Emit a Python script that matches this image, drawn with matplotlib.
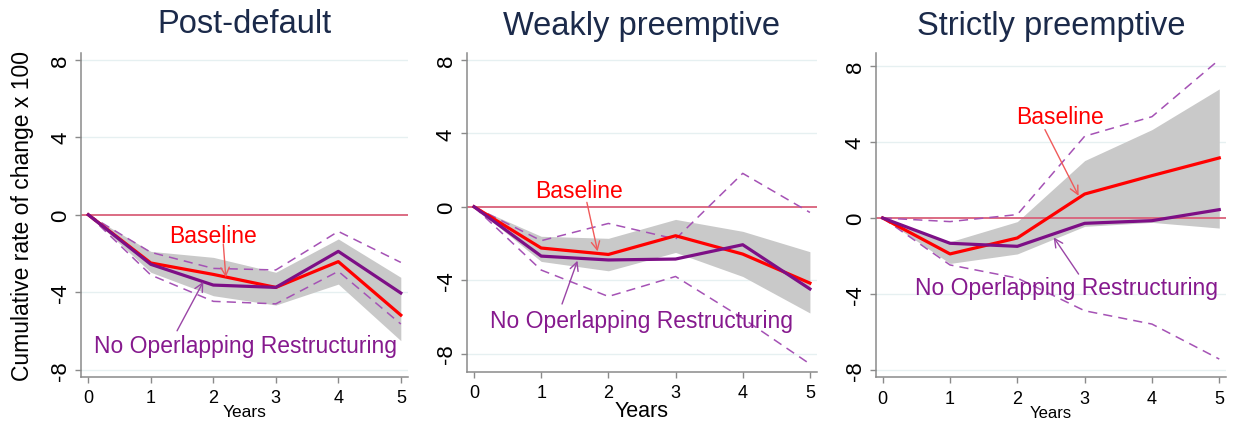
import matplotlib
matplotlib.use("Agg")
import matplotlib.pyplot as plt

plt.rcParams['font.family'] = ['Liberation Sans', 'DejaVu Sans']

years = [0, 1, 2, 3, 4, 5]
titles = ["Post-default", "Weakly preemptive", "Strictly preemptive"]
yticks = [-8, -4, 0, 4, 8]
ytick_labels = ["-8", "-4", "0", "4", "8"]
ylabel_text = "Cumulative rate of change x 100"
xlabel_text = "Years"
label_baseline = "Baseline"
label_noovl = "No Operlapping Restructuring"

# Post-default
pd_baseline = [0, -2.49, -3.08, -3.75, -2.42, -5.18]
pd_baseline_lo = [0, -2.97, -4.18, -4.66, -3.58, -6.50]
pd_baseline_hi = [0, -1.89, -2.20, -2.97, -1.25, -3.23]
pd_noovl = [0, -2.56, -3.63, -3.75, -1.89, -4.04]
pd_noovl_lo = [0, -3.11, -4.47, -4.60, -2.92, -5.64]
pd_noovl_hi = [0, -1.94, -2.77, -2.85, -0.86, -2.46]

# Weakly preemptive
wp_baseline = [0, -2.25, -2.60, -1.58, -2.58, -4.16]
wp_baseline_lo = [0, -2.98, -3.49, -2.49, -3.80, -5.79]
wp_baseline_hi = [0, -1.61, -1.72, -0.69, -1.34, -2.45]
wp_noovl = [0, -2.69, -2.90, -2.85, -2.07, -4.48]
wp_noovl_lo = [0, -3.45, -4.89, -3.80, -6.08, -8.57]
wp_noovl_hi = [0, -1.85, -0.91, -1.76, 1.82, -0.31]

# Strictly preemptive
sp_baseline = [0, -1.89, -1.05, 1.26, 2.23, 3.16]
sp_baseline_lo = [0, -2.39, -1.89, -0.44, -0.23, -0.53]
sp_baseline_hi = [0, -1.25, -0.19, 3.02, 4.65, 6.79]
sp_noovl = [0, -1.33, -1.49, -0.28, -0.14, 0.44]
sp_noovl_lo = [0, -2.47, -3.16, -4.88, -5.58, -7.42]
sp_noovl_hi = [0, -0.19, 0.18, 4.30, 5.33, 8.33]

panels = [
    dict(b=pd_baseline, blo=pd_baseline_lo, bhi=pd_baseline_hi,
         n=pd_noovl, nlo=pd_noovl_lo, nhi=pd_noovl_hi),
    dict(b=wp_baseline, blo=wp_baseline_lo, bhi=wp_baseline_hi,
         n=wp_noovl, nlo=wp_noovl_lo, nhi=wp_noovl_hi),
    dict(b=sp_baseline, blo=sp_baseline_lo, bhi=sp_baseline_hi,
         n=sp_noovl, nlo=sp_noovl_lo, nhi=sp_noovl_hi),
]

# layout / style (not data)
W, H = 1238, 427
axes_px = [(81, 54, 408, 377.7), (466.7, 54, 817.3, 372.7), (875.7, 54, 1226, 378.3)]
ylims = [(-8.36, 8.35), (-8.99, 8.38), (-8.38, 8.68)]
xlims = [(-0.117, 5.115), (-0.109, 5.11), (-0.104, 5.10)]
xlabel_sizes = [12.5, 15.5, 12]
xlabel_y = [-0.109, -0.122, -0.11]
title_pads = [15, 14, 14]
# annotation placement (text center, arrow start, arrow tip) in data coords
ann_base = [((2.0, -1.05), (2.16, -1.51), (2.2, -3.23)),
            ((1.56, 0.87), (1.68, 0.24), (1.84, -2.43)),
            ((2.63, 5.35), (2.41, 4.65), (2.91, 1.17))]
ann_noovl = [((2.52, -6.76), (1.42, -5.99), (1.84, -3.46)),
             ((2.5, -6.21), (1.31, -5.30), (1.54, -2.94)),
             ((2.73, -3.65), (2.91, -2.95), (2.54, -1.02))]

RED = '#ff0000'
PURPLE = '#7d0f86'
DASH = '#a552b5'
BAND = '#c9c9c9'
ZERO = '#d9607a'
GRID = '#e6f0f1'
SPINE = '#8a8a8a'
TITLE = '#1b2a4a'

fig = plt.figure(figsize=(W / 100, H / 100), dpi=100)

for i, p in enumerate(panels):
    x0, y0, x1, y1 = axes_px[i]
    ax = fig.add_axes([x0 / W, (H - y1) / H, (x1 - x0) / W, (y1 - y0) / H])
    ax.set_xlim(*xlims[i])
    ax.set_ylim(*ylims[i])
    for yv in yticks:
        if yv != 0:
            ax.axhline(yv, color=GRID, lw=1, zorder=0)
    ax.fill_between(years, p['blo'], p['bhi'], color=BAND, lw=0, zorder=1)
    ax.axhline(0, color=ZERO, lw=1.3, zorder=2)
    ax.plot(years, p['nlo'], color=DASH, lw=1.1, ls=(0, (6, 4)), zorder=3)
    ax.plot(years, p['nhi'], color=DASH, lw=1.1, ls=(0, (6, 4)), zorder=3)
    ax.plot(years, p['b'], color=RED, lw=2.3, zorder=4)
    ax.plot(years, p['n'], color=PURPLE, lw=2.3, zorder=5)

    (tx, ty), (sx, sy), (ex, ey) = ann_base[i]
    ax.text(tx, ty, label_baseline, color=RED, fontsize=16.5, ha='center', va='center', zorder=6)
    ax.annotate('', xy=(ex, ey), xytext=(sx, sy),
                arrowprops=dict(arrowstyle='->,head_length=0.6,head_width=0.3',
                                color='#f05a5a', lw=1.0, shrinkA=0, shrinkB=0), zorder=6)
    (tx, ty), (sx, sy), (ex, ey) = ann_noovl[i]
    ax.text(tx, ty, label_noovl, color='#861a8e', fontsize=16.5, ha='center', va='center', zorder=6)
    ax.annotate('', xy=(ex, ey), xytext=(sx, sy),
                arrowprops=dict(arrowstyle='->,head_length=0.6,head_width=0.3',
                                color='#9a45a6', lw=1.0, shrinkA=0, shrinkB=0), zorder=6)

    ax.set_xticks(years)
    ax.set_xticklabels([str(v) for v in years], fontsize=13)
    ax.set_yticks(yticks)
    ax.set_yticklabels(ytick_labels, fontsize=16, rotation=90, va='center')
    ax.tick_params(axis='both', direction='out', length=4, width=1, color=SPINE)
    ax.tick_params(axis='x', pad=5)
    ax.tick_params(axis='y', pad=3)
    for s in ['top', 'right']:
        ax.spines[s].set_visible(False)
    for s in ['left', 'bottom']:
        ax.spines[s].set_color(SPINE)
        ax.spines[s].set_linewidth(1.1)

    ax.set_title(titles[i], fontsize=23.5, color=TITLE, pad=title_pads[i])
    ax.set_xlabel(xlabel_text, fontsize=xlabel_sizes[i], va='center')
    ax.xaxis.set_label_coords(0.5, xlabel_y[i])
    if i == 0:
        ax.set_ylabel(ylabel_text, fontsize=16.5)
        ax.yaxis.set_label_coords(-0.144, 0.5)

fig.savefig('out.png', dpi=100, facecolor='white')
